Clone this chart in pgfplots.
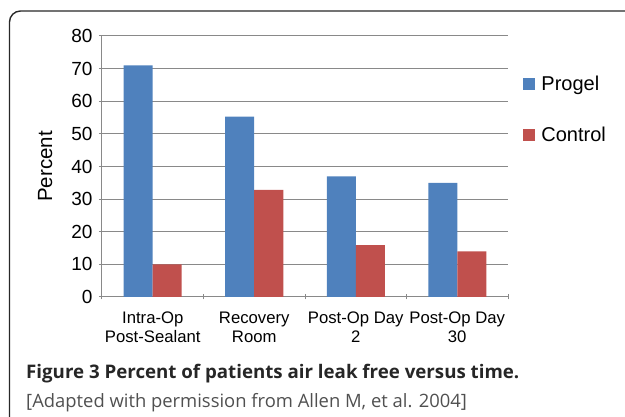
\documentclass[border=0pt]{standalone}
\usepackage{fontspec}
\setmainfont{Liberation Sans}
\newfontfamily\capfont[Ligatures=NoCommon]{Open Sans}
\usepackage{pgfplots}
\pgfplotsset{compat=1.18}
\definecolor{pblue}{HTML}{4F81BD}
\definecolor{pred}{HTML}{C0504D}
\definecolor{gridgray}{RGB}{137,137,137}
\definecolor{framegray}{RGB}{40,40,40}
\definecolor{capgray}{RGB}{80,80,80}
\begin{document}
\begin{tikzpicture}[x=1pt,y=1pt]
\useasboundingbox (0,0) rectangle (625,417);
\begin{scope}
\clip (0,0) rectangle (625,417);
\draw[line width=1.4pt, color=framegray, rounded corners=11pt] (9.5,-30) -- (9.5,406) -- (660,406);
\end{scope}
\begin{axis}[
  at={(102pt,120pt)}, anchor=south west,
  scale only axis, width=406pt, height=261pt,
  ybar=0pt, bar width=29pt,
  xmin=-0.5, xmax=3.5, ymin=0, ymax=80,
  ytick={0,10,...,80},
  xtick={0,1,2,3},
  xticklabels={{Intra-Op\\Post-Sealant},{Recovery\\Room},{Post-Op Day\\2},{Post-Op Day\\30}},
  minor xtick={-0.5,0.5,1.5,2.5,3.5},
  major x tick style={draw=none},
  tick align=outside,
  major tick length=6pt, minor tick length=5pt,
  every tick/.style={color=gridgray, line width=1pt},
  axis x line=bottom, axis y line=left,
  axis line style={color=gridgray, line width=1pt, -},
  ymajorgrids, major grid style={color=gridgray, line width=1pt},
  /pgf/number format/assume math mode=true,
  yticklabel style={font=\fontsize{19}{22}\selectfont, xshift=-3pt},
  xticklabel style={font=\fontsize{16.7}{19.3}\selectfont, align=center, yshift=-8pt},
  ylabel={Percent},
  ylabel style={font=\fontsize{20.5}{24}\selectfont, at={(axis description cs:-0.14,0.5)}, anchor=center},
  legend style={draw=none, fill=none, at={(axis description cs:1.038,0.86)}, anchor=north west,
    inner sep=0pt, outer sep=0pt, font=\fontsize{20}{24}\selectfont, row sep=29.5pt,
    nodes={inner sep=3pt}, /tikz/every odd column/.append style={column sep=3pt}},
  legend cell align=left,
  legend image code/.code={\fill[#1] (0pt,-6pt) rectangle (12pt,6pt);},
]
\addplot[fill=pblue, draw=none] coordinates {(0,71) (1,55.3) (2,37) (3,35)};
\addplot[fill=pred, draw=none] coordinates {(0,10) (1,32.8) (2,15.9) (3,14)};
\legend{Progel,Control}
\end{axis}
\node[anchor=base west, inner sep=0pt, font=\capfont\bfseries\fontsize{18.7}{22}\selectfont, color=black!85] at (26,38) {Figure 3 Percent of patients air leak free versus time.};
\node[anchor=base west, inner sep=0pt, font=\capfont\fontsize{18.4}{22}\selectfont, color=capgray] at (26,9) {[Adapted with permission from Allen M, et al. 2004]};
\end{tikzpicture}
\end{document}
